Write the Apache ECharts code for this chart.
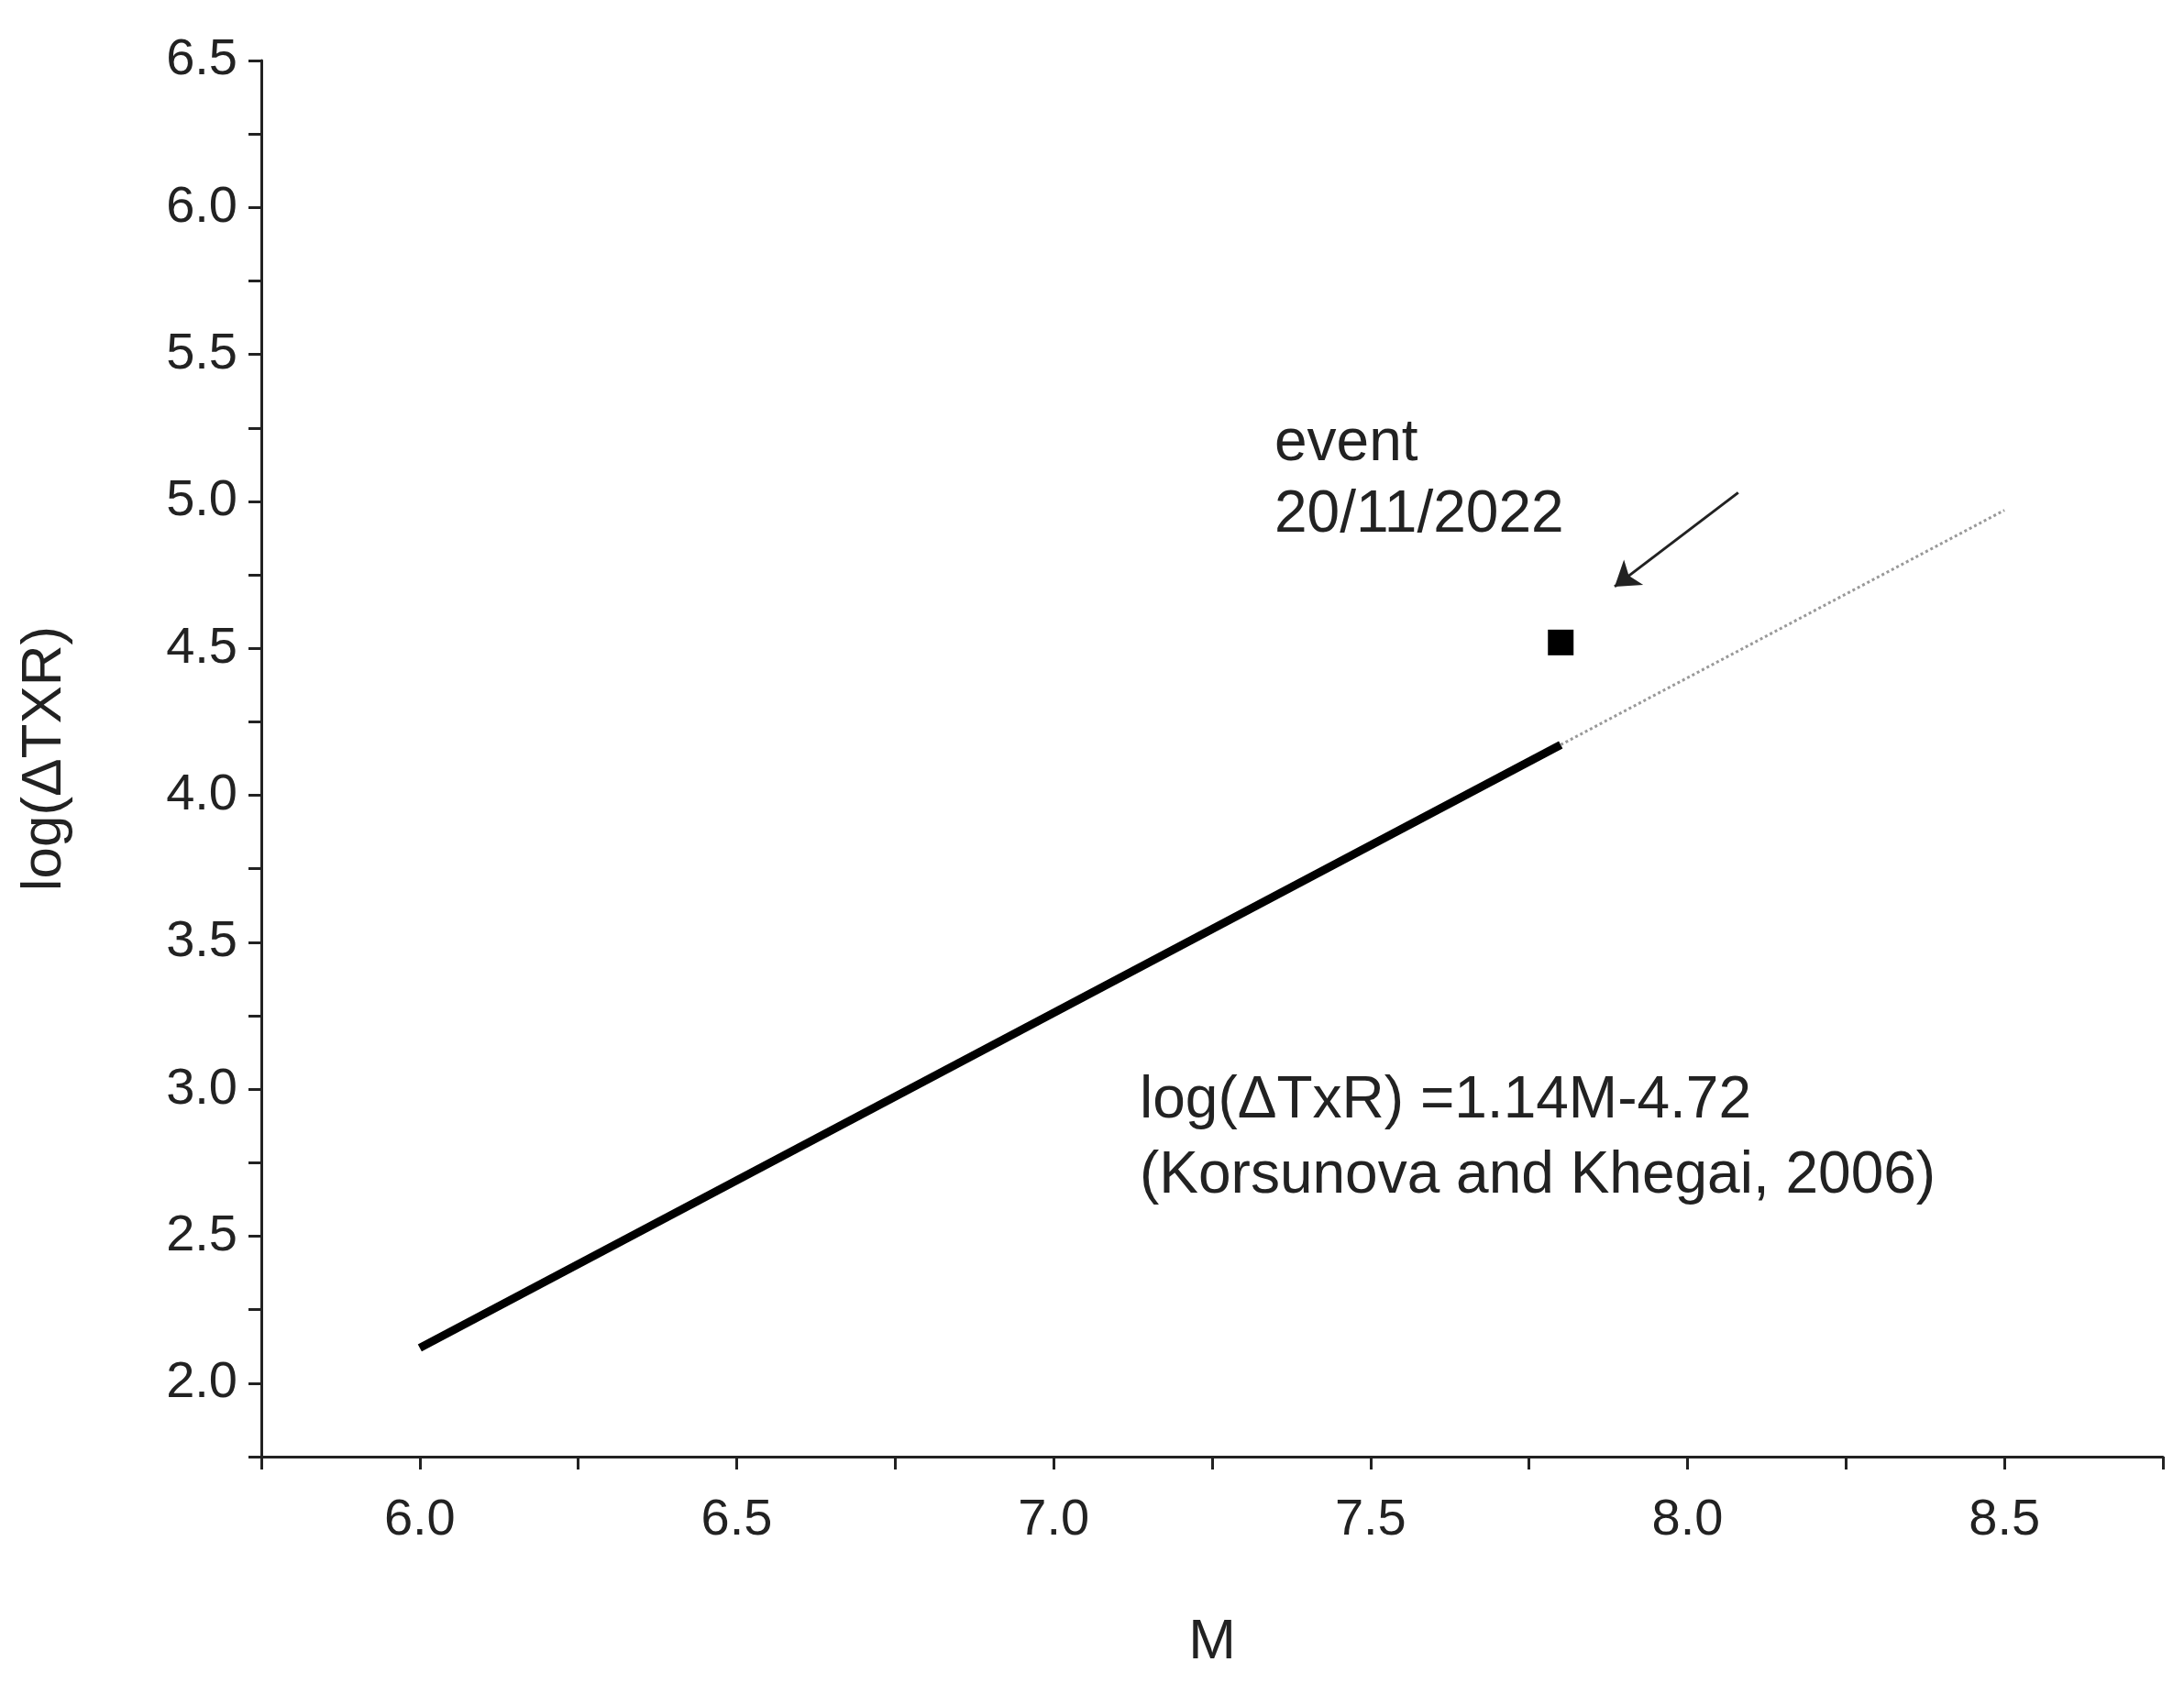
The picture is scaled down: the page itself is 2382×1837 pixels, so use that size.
<!DOCTYPE html>
<html>
<head>
<meta charset="utf-8">
<script src="https://cdn.jsdelivr.net/npm/echarts@6/dist/echarts.min.js"></script>
<style>html,body{margin:0;padding:0;background:#fff}#c{width:2382px;height:1837px}</style>
</head>
<body>
<div id="c"></div>
<script>
// regression line log(dTxR) = 1.14M - 4.72
var fitSolid = [[6.0, 2.12], [7.8, 4.172]];
var fitDotted = [[7.8, 4.172], [8.5, 4.97]];
var eventPoint = [[7.8, 4.52]];
var arrowFrom = [8.08, 5.03];
var arrowTo = [7.885, 4.71];

var font = 'Liberation Sans, Arial, sans-serif';
var myChart = echarts.init(document.getElementById('c'));
var option = {
  animation: false,
  textStyle: { fontFamily: font },
  grid: { left: 285, right: 23, top: 66, bottom: 248 },
  xAxis: {
    type: 'value', min: 5.75, max: 8.75, interval: 0.25,
    name: 'M', nameLocation: 'middle', nameGap: 172,
    nameTextStyle: { fontSize: 62, color: '#222' },
    axisLine: { onZero: false, lineStyle: { color: '#222', width: 3 } },
    axisTick: { length: 14, lineStyle: { width: 3, color: '#222' } },
    axisLabel: { fontSize: 56, color: '#222', margin: 42,
      formatter: function (v) { return (Math.abs(v * 2 - Math.round(v * 2)) < 1e-6 && v >= 6) ? v.toFixed(1) : ''; } },
    splitLine: { show: false }
  },
  yAxis: {
    type: 'value', min: 1.75, max: 6.5, interval: 0.25,
    name: 'log(ΔTXR)', nameLocation: 'middle', nameGap: 205, nameRotate: 90,
    nameTextStyle: { fontSize: 62, color: '#222' },
    axisLine: { onZero: false, lineStyle: { color: '#222', width: 3 } },
    axisTick: { length: 14, lineStyle: { width: 3, color: '#222' } },
    axisLabel: { fontSize: 56, color: '#222', margin: 26,
      formatter: function (v) { return (Math.abs(v * 2 - Math.round(v * 2)) < 1e-6) ? v.toFixed(1) : ''; } },
    splitLine: { show: false }
  },
  series: [
    { type: 'line', data: fitSolid, symbol: 'none', lineStyle: { color: '#000', width: 9 } },
    { type: 'line', data: fitDotted, symbol: 'none', lineStyle: { color: '#999', width: 3, type: 'dotted' } },
    { type: 'scatter', data: eventPoint, symbol: 'rect', symbolSize: 28, itemStyle: { color: '#000', opacity: 1 },
      markLine: { silent: true, symbol: ['none', 'arrow'], symbolSize: 26,
        lineStyle: { color: '#222', width: 3, type: 'solid' }, label: { show: false },
        data: [[{ coord: arrowFrom }, { coord: arrowTo }]] } }
  ],
  graphic: [
    { type: 'text', left: 1390, top: 445, style: { text: 'event\n20/11/2022', fontSize: 64, lineHeight: 78, fill: '#222', fontFamily: font } },
    { type: 'text', left: 1243, top: 1160, style: { text: 'log(ΔTxR) =1.14M-4.72\n(Korsunova and Khegai, 2006)', fontSize: 64, lineHeight: 82, fill: '#222', fontFamily: font } }
  ]
};
myChart.setOption(option);
</script>
</body>
</html>
